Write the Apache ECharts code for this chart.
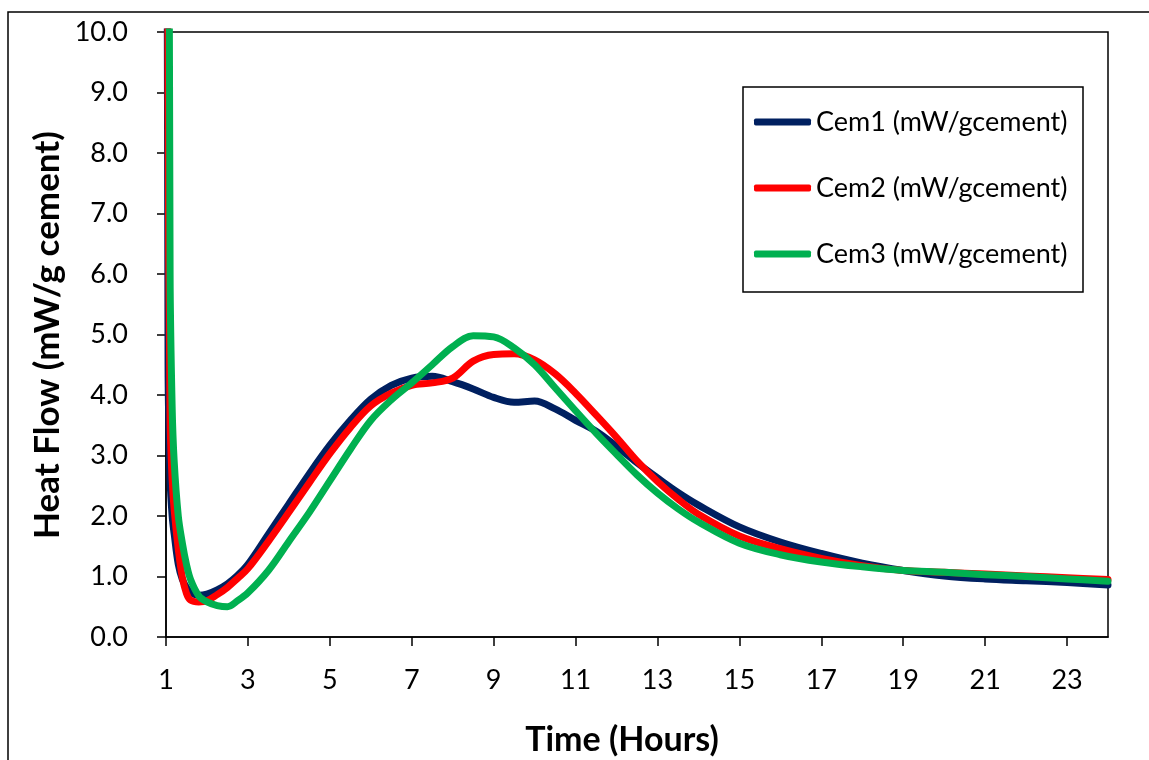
<!DOCTYPE html>
<html>
<head>
<meta charset="utf-8">
<script src="https://cdn.jsdelivr.net/npm/echarts@6/dist/echarts.min.js"></script>
<style>
  html, body { margin: 0; padding: 0; background: #fff; }
  #chart { width: 1149px; height: 760px; }
</style>
</head>
<body>
<div id="chart"></div>
<script>
// Hydration heat flow, first 24 hours
const hours = [1.0, 1.05, 1.1, 1.15, 1.2, 1.3, 1.4, 1.5, 1.6, 1.8, 2.0, 2.25, 2.5, 2.75, 3.0,
  3.5, 4.0, 4.5, 5.0, 5.5, 6.0, 6.5, 7.0, 7.5, 8.0, 8.5, 9.0, 9.5, 10.0, 10.5, 11.0, 11.5,
  12.0, 12.5, 13.0, 13.5, 14, 15, 16, 17, 18, 19, 20, 21, 22, 23, 24];

const cem1 = [25, 4.5, 2.6, 2.0, 1.7, 1.2, 0.95, 0.82, 0.74, 0.69, 0.71, 0.78, 0.88, 1.02, 1.2,
  1.7, 2.2, 2.7, 3.17, 3.58, 3.93, 4.16, 4.28, 4.31, 4.22, 4.1, 3.96, 3.88, 3.9, 3.77, 3.58, 3.4,
  3.15, 2.88, 2.63, 2.39, 2.18, 1.82, 1.57, 1.38, 1.22, 1.1, 1.01, 0.96, 0.93, 0.9, 0.86];

const cem2 = [40, 9.0, 3.6, 2.6, 2.1, 1.45, 0.98, 0.72, 0.61, 0.58, 0.6, 0.7, 0.82, 0.97, 1.13,
  1.58, 2.06, 2.55, 3.03, 3.46, 3.82, 4.03, 4.16, 4.2, 4.28, 4.56, 4.67, 4.68, 4.58, 4.35, 4.03, 3.67,
  3.3, 2.91, 2.57, 2.28, 2.03, 1.67, 1.46, 1.3, 1.18, 1.1, 1.07, 1.04, 1.01, 0.98, 0.95];

const cem3 = [40, 20, 6.0, 3.8, 2.9, 2.0, 1.55, 1.2, 0.95, 0.68, 0.58, 0.52, 0.5, 0.6, 0.73,
  1.1, 1.58, 2.06, 2.58, 3.1, 3.58, 3.92, 4.2, 4.5, 4.8, 4.98, 4.96, 4.78, 4.5, 4.12, 3.74, 3.37,
  3.02, 2.68, 2.38, 2.12, 1.9, 1.55, 1.36, 1.24, 1.16, 1.1, 1.07, 1.03, 1.0, 0.96, 0.92];

const seriesNames = ['Cem1 (mW/gcement)', 'Cem2 (mW/gcement)', 'Cem3 (mW/gcement)'];
const seriesColors = ['#002060', '#FF0000', '#00B050'];
const xTicks = [1, 3, 5, 7, 9, 11, 13, 15, 17, 19, 21, 23];

const FONT = 'Lato, "Open Sans", "DejaVu Sans", sans-serif';

const chart = echarts.init(document.getElementById('chart'), null, { renderer: 'canvas' });

const makeSeries = (name, values, color) => ({
  name: name,
  type: 'line',
  data: hours.map((h, i) => [h, values[i]]),
  showSymbol: false,
  smooth: 0.35,
  clip: true,
  lineStyle: { color: color, width: 7, cap: 'round', join: 'round' },
  itemStyle: { color: color },
  emphasis: { disabled: true }
});

chart.setOption({
  backgroundColor: '#ffffff',
  animation: false,
  grid: {
    left: 166, right: 41, top: 32, bottom: 123,
    show: true, borderColor: '#000', borderWidth: 1.5, backgroundColor: 'transparent'
  },
  xAxis: {
    type: 'value', min: 1, max: 24, interval: 2,
    axisLine: { show: true, onZero: false, lineStyle: { color: '#000', width: 1.5 } },
    axisTick: { show: true, inside: false, length: 9, customValues: xTicks, lineStyle: { color: '#000', width: 1.5 } },
    axisLabel: { customValues: xTicks, margin: 30, color: '#000', fontSize: 27, fontFamily: FONT },
    splitLine: { show: false }
  },
  yAxis: {
    type: 'value', min: 0, max: 10, interval: 1,
    axisLine: { show: true, lineStyle: { color: '#000', width: 1.5 } },
    axisTick: { show: true, inside: false, length: 9, lineStyle: { color: '#000', width: 1.5 } },
    axisLabel: { margin: 38, color: '#000', fontSize: 27, fontFamily: FONT, formatter: v => v.toFixed(1) },
    splitLine: { show: false }
  },
  legend: {
    orient: 'vertical',
    left: 754, top: 107,
    padding: 0,
    itemWidth: 57, itemHeight: 7, itemGap: 36,
    icon: 'roundRect',
    textStyle: { color: '#000', fontSize: 27, fontFamily: FONT, lineHeight: 30 },
    data: seriesNames,
    selectedMode: false
  },
  graphic: [
    { type: 'rect', silent: true, z: 0,
      shape: { x: 8, y: 12, width: 1200, height: 800 },
      style: { fill: 'none', stroke: '#000', lineWidth: 1.5 } },
    { type: 'rect', silent: true, z: 0,
      shape: { x: 743, y: 87, width: 340, height: 205 },
      style: { fill: '#fff', stroke: '#000', lineWidth: 1.5 } },
    { type: 'text', silent: true,
      x: 622, y: 740,
      style: { text: 'Time (Hours)', fill: '#000', font: 'bold 34px ' + FONT, align: 'center', verticalAlign: 'middle' } },
    { type: 'text', silent: true,
      x: 48, y: 335, rotation: Math.PI / 2,
      style: { text: 'Heat Flow (mW/g cement)', fill: '#000', font: 'bold 35px ' + FONT, align: 'center', verticalAlign: 'middle' } }
  ],
  series: [
    makeSeries(seriesNames[0], cem1, seriesColors[0]),
    makeSeries(seriesNames[1], cem2, seriesColors[1]),
    makeSeries(seriesNames[2], cem3, seriesColors[2])
  ]
});
</script>
</body>
</html>
